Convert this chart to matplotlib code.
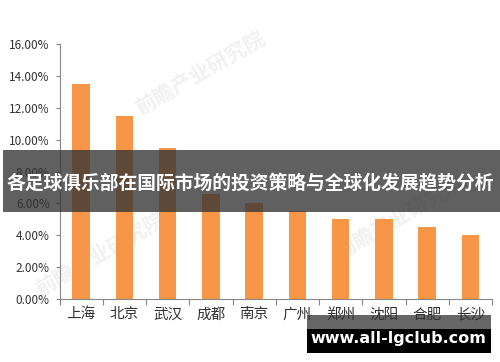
import matplotlib.pyplot as plt
from matplotlib.patches import Rectangle
from matplotlib.ticker import FuncFormatter

plt.rcParams['font.family'] = ['Noto Sans CJK SC', 'DejaVu Sans']

# data
cities = ['上海', '北京', '武汉', '成都', '南京', '广州', '郑州', '沈阳', '合肥', '长沙']
shares = [13.5, 11.5, 9.5, 6.6, 6.0, 5.5, 5.0, 5.0, 4.5, 4.0]
yticks = [0, 2, 4, 6, 8, 10, 12, 14, 16]

title_text = '各足球俱乐部在国际市场的投资策略与全球化发展趋势分析'
site_text = 'www.all-lgclub.com'
watermark = '前瞻产业研究院'

fig = plt.figure(figsize=(5.0, 3.62), dpi=100)
ax = fig.add_axes([0.119, 0.174, 0.865, 0.704])
ax.set_zorder(2)
ax.patch.set_alpha(0)

# faint watermarks behind the chart
for wx, wy in [(0.40, 0.80), (0.20, 0.30), (0.80, 0.40)]:
    fig.text(wx, wy, watermark, fontsize=15, color='#f1f1f1', rotation=30,
             ha='center', va='center', fontweight='bold', zorder=0)

x = range(len(cities))
ax.bar(x, shares, width=0.4, color='#F79646', zorder=2)

ax.set_xlim(-0.5, len(cities) - 0.5)
ax.set_ylim(0, 16)
ax.set_yticks(yticks)
ax.yaxis.set_major_formatter(FuncFormatter(lambda v, p: f'{v:.2f}%'))
ax.tick_params(axis='y', labelsize=8.5, colors='#333333', length=3, width=0.8,
               color='#888888', pad=4)
ax.set_xticks(list(x))
ax.set_xticklabels(cities, fontsize=10.5, color='#333333')
ax.tick_params(axis='x', length=0, pad=6)
# tick marks on category boundaries
ax.set_xticks([i + 0.5 for i in range(-1, len(cities))], minor=True)
ax.tick_params(axis='x', which='minor', length=4, width=0.8, color='#888888')

for side in ['top', 'right']:
    ax.spines[side].set_visible(False)
for side in ['left', 'bottom']:
    ax.spines[side].set_color('#888888')
    ax.spines[side].set_linewidth(0.8)

# dark title banner across the middle
fig.patches.append(Rectangle((0.006, 1 - 212 / 362), 0.994, 62 / 362,
                             transform=fig.transFigure, facecolor='#333333',
                             alpha=0.78, zorder=5))
fig.text(0.5, 1 - 184 / 362, title_text, fontsize=13.5, fontweight='bold',
         color='white', ha='center', va='center', zorder=6)

# site banner bottom right
fig.patches.append(Rectangle((307 / 500, 1 - 329 / 362), 184 / 500, 14 / 362,
                             transform=fig.transFigure, facecolor='#333333',
                             alpha=0.75, zorder=5))
fig.patches.append(Rectangle((307 / 500, 1 - 353 / 362), 184 / 500, 24 / 362,
                             transform=fig.transFigure, facecolor='black', zorder=5))
fig.text(398 / 500, 1 - 338 / 362, site_text, fontsize=11.5, fontweight='bold',
         color='white', ha='center', va='center', family='DejaVu Sans', zorder=6)

fig.savefig('out.png', dpi=100)
